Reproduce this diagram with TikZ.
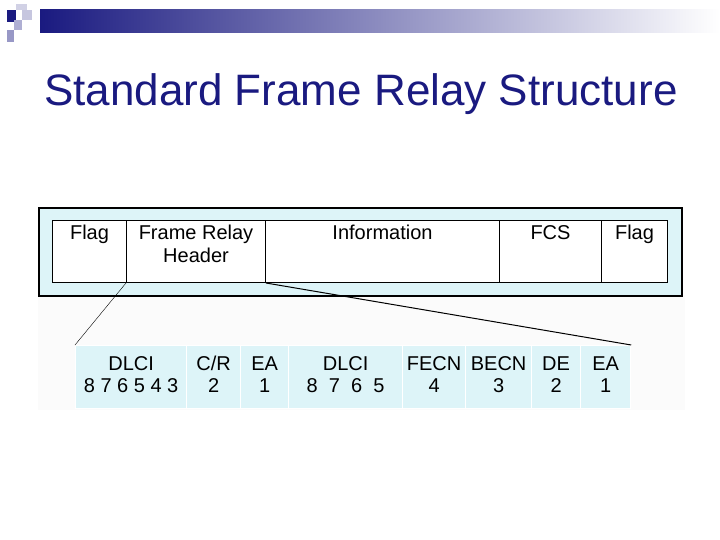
\documentclass[tikz,border=0pt]{standalone}
\usepackage{fontspec}
\setmainfont{Liberation Sans}
\definecolor{navy}{HTML}{1A1A80}
\definecolor{cy}{HTML}{DDF4F8}
\newcommand\sx{\strut}
\begin{document}
\begin{tikzpicture}[x=1pt,y=-1pt,
  top/.style={draw,line width=1pt,fill=white,anchor=north west,inner sep=0pt,align=center},
  bot/.style={fill=cy,draw=white,line width=1.2pt,anchor=north west,inner sep=0pt,align=center,font=\fontsize{20}{22}\selectfont}]
\useasboundingbox (0,0) rectangle (720,540);
\shade[left color=navy,right color=white] (40,10) rectangle (720,33);
\fill[navy] (7,10) rectangle (16,22);
\fill[navy!20] (16,4) rectangle (27,10);
\fill[navy!25] (22,10) rectangle (32,20);
\fill[navy!35] (14,20) rectangle (22,30);
\fill[navy!45] (7,30) rectangle (14,42);
\node[navy,font=\fontsize{44}{48}\selectfont,anchor=base west,inner sep=0pt] (title) at (44,106) {Standard Frame Relay Structure};
\fill[black!1.5] (38,295) rectangle (685,410);
\node[draw,line width=2pt,fill=cy,minimum width=643,minimum height=88,anchor=north west,inner sep=0pt] (outer) at (38,207) {};
\foreach \n/\a/\b/\t in {f1/52/126/Flag, frh/126/265/{Frame Relay\\Header}, info/265/499/Information, fcs/499/601/FCS, f2/601/667/Flag}{
  \node[top,minimum width={\b-\a},minimum height=62] (\n) at (\a,220) {};
  \node[anchor=north,align=center,font=\fontsize{20}{23}\selectfont,inner sep=5pt] at (\n.north) {\t};
}
\foreach \n/\a/\b/\t in {d1/75/186/{DLCI\sx\\8 7 6 5 4 3\sx}, cr/186/240/{C/R\sx\\2\sx}, ea1/240/288/{EA\sx\\1\sx}, d2/288/402/{DLCI\sx\\8 \ 7 \ 6 \ 5\sx}, fe/402/465/{FECN\sx\\4\sx}, be/465/531/{BECN\sx\\3\sx}, de/531/580/{DE\sx\\2\sx}, ea2/580/630/{EA\sx\\1\sx}}{
  \node[bot,minimum width={\b-\a},minimum height=63] (\n) at (\a,345) {\t};
}
\draw (frh.south west) -- (d1.north west);
\draw[line width=1pt] (frh.south east) -- (ea2.north east);
\end{tikzpicture}
\end{document}
